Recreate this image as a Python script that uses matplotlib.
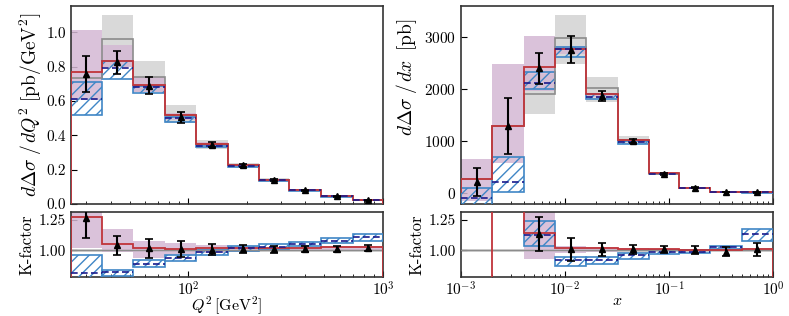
import numpy as np
import matplotlib
matplotlib.use("Agg")
import matplotlib.pyplot as plt

plt.rcParams['font.family'] = 'serif'
plt.rcParams['font.serif'] = ['cmr10']
plt.rcParams['mathtext.fontset'] = 'cm'
plt.rcParams['axes.formatter.use_mathtext'] = True
plt.rcParams['font.size'] = 10
plt.rcParams['hatch.linewidth'] = 1.0

nan = np.nan

# ---- Q^2 distribution ----
q2_edges = [25, 36, 52, 76, 110, 160, 230, 330, 480, 700, 1000]
q2_red = [0.770, 0.833, 0.693, 0.518, 0.348, 0.227, 0.140, 0.080, 0.045, 0.023]
q2_red_lo = [0.605, 0.800, 0.650, 0.490, 0.335, 0.220, 0.136, 0.078, 0.044, 0.022]
q2_red_hi = [1.013, 0.925, 0.742, 0.530, 0.360, 0.233, 0.144, 0.082, 0.046, 0.024]
q2_gray = [0.732, 0.960, 0.742, 0.520, 0.350, 0.228, 0.141, 0.081, 0.046, 0.024]
q2_gray_lo = [nan, 0.800, 0.650, 0.470, 0.320, 0.210, 0.130, 0.074, 0.041, 0.020]
q2_gray_hi = [nan, 1.100, 0.833, 0.577, 0.375, 0.240, 0.150, 0.087, 0.050, 0.027]
q2_blue = [0.610, 0.794, 0.680, 0.500, 0.340, 0.223, 0.139, 0.080, 0.045, 0.023]
q2_blue_lo = [0.518, 0.728, 0.645, 0.480, 0.330, 0.218, 0.136, 0.078, 0.044, 0.022]
q2_blue_hi = [0.713, 0.833, 0.690, 0.505, 0.345, 0.228, 0.142, 0.082, 0.046, 0.024]
q2_data = [0.760, 0.825, 0.690, 0.505, 0.345, 0.225, 0.140, 0.080, 0.045, 0.022]
q2_err = [0.105, 0.065, 0.050, 0.032, 0.015, 0.007, 0.005, 0.004, 0.003, 0.002]

# K-factor (Q^2)
q2_k_red = [1.272, 1.052, 1.020, 1.011, 1.016, 1.016, 1.020, 1.020, 1.025, 1.028]
q2_k_red_lo = [1.020, 0.990, 0.938, 0.965, 0.979, 0.990, 0.995, 0.998, 1.002, 1.005]
q2_k_red_hi = [1.400, 1.175, 1.079, 1.060, 1.046, 1.035, 1.030, 1.030, 1.035, 1.038]
q2_k_blue = [0.810, 0.824, 0.889, 0.938, 0.984, 1.020, 1.030, 1.052, 1.080, 1.110]
q2_k_blue_lo = [0.700, 0.788, 0.861, 0.916, 0.965, 0.998, 1.011, 1.033, 1.060, 1.079]
q2_k_blue_hi = [0.959, 0.840, 0.924, 0.965, 1.006, 1.033, 1.052, 1.068, 1.100, 1.134]
q2_k_data = [1.270, 1.040, 1.016, 1.012, 1.005, 1.010, 1.010, 1.010, 1.010, 1.020]
q2_k_err = [0.170, 0.080, 0.080, 0.065, 0.045, 0.030, 0.028, 0.025, 0.025, 0.022]

# ---- x distribution ----
x_edges = [0.001, 0.002, 0.004, 0.008, 0.016, 0.032, 0.064, 0.125, 0.25, 0.5, 1.0]
x_red = [258, 1294, 2421, 2775, 1900, 1017, 373, 97, 19, 6]
x_red_lo = [-150, 570, 1965, 2670, 1850, 1000, 365, 95, 17, 5]
x_red_hi = [650, 2480, 3033, 2830, 1920, 1030, 380, 99, 21, 7]
x_gray = [258, 1294, 1900, 2981, 2015, 1010, 370, 97, 19, 6]
x_gray_lo = [nan, nan, 1520, 2479, 1758, 940, 340, 80, 5, 0]
x_gray_hi = [nan, nan, 2300, 3432, 2240, 1095, 400, 115, 30, 12]
x_blue = [-110, 212, 2112, 2769, 1855, 985, 362, 96, 18, 6]
x_blue_lo = [-300, 6, 1996, 2627, 1810, 950, 355, 93, 15, 4]
x_blue_hi = [84, 695, 2337, 2820, 1900, 1000, 370, 100, 22, 8]
x_data = [212, 1288, 2402, 2756, 1867, 1004, 360, 97, 13, 6]
x_err = [270, 540, 295, 260, 105, 40, 20, 10, 8, 8]

# K-factor (x)
x_k_red = [-2.3, 6.1, 1.146, 1.021, 1.016, 1.008, 1.008, 1.000, 1.005, 1.013]
x_k_red_lo = [nan, nan, 0.930, 0.982, 0.990, 0.995, 0.997, 0.995, 0.997, 1.000]
x_k_red_hi = [nan, nan, 1.400, 1.034, 1.026, 1.020, 1.015, 1.008, 1.013, 1.020]
x_k_blue = [nan, nan, 1.130, 0.917, 0.917, 0.964, 0.990, 0.990, 1.026, 1.138]
x_k_blue_lo = [nan, nan, 1.039, 0.870, 0.890, 0.932, 0.974, 0.982, 1.008, 1.078]
x_k_blue_hi = [nan, nan, 1.242, 0.948, 0.943, 0.980, 1.003, 1.000, 1.039, 1.177]
x_k_data = [nan, nan, 1.138, 1.008, 1.008, 1.008, 1.008, 1.000, 0.990, 1.008]
x_k_err = [nan, nan, 0.140, 0.095, 0.055, 0.037, 0.026, 0.032, 0.040, 0.052]

RED = '#c0343a'
PURPLE = '#d4b8d4'
GRAY_BAND = '#d9d9d9'
GRAY_LINE = '#8c8c8c'
BLUE = '#3f86c6'
NAVY = '#1a1a8c'


def band(ax, edges, lo, hi, **kw):
    for a, b, l, h in zip(edges[:-1], edges[1:], lo, hi):
        if np.isnan(l) or np.isnan(h):
            continue
        ax.bar(a, h - l, width=b - a, bottom=l, align='edge', **kw)


def centers(edges):
    e = np.array(edges, dtype=float)
    return np.sqrt(e[:-1] * e[1:])


def draw(ax, edges, red, rlo, rhi, gray, glo, ghi, blue, blo, bhi, data, err,
         gray_flat=False):
    band(ax, edges, glo, ghi, color=GRAY_BAND, linewidth=0, zorder=1)
    band(ax, edges, rlo, rhi, color=PURPLE, alpha=0.85, linewidth=0, zorder=2)
    band(ax, edges, blo, bhi, facecolor='none', edgecolor=BLUE, hatch='///',
         linewidth=1.2, zorder=3)
    if gray_flat:
        ax.axhline(1.0, color=GRAY_LINE, lw=1.0, zorder=4)
    else:
        ax.stairs(gray, edges, color=GRAY_LINE, lw=1.2, zorder=4)
    ax.stairs(red, edges, color=RED, lw=1.3, zorder=5)
    b = np.array(blue, dtype=float)
    e = np.array(edges, dtype=float)
    m = ~np.isnan(b)
    ax.hlines(b[m], e[:-1][m], e[1:][m], colors=NAVY, linestyles=(0, (4, 2)),
              lw=1.2, zorder=6)
    ax.errorbar(centers(edges), data, yerr=err, fmt='^', color='k', ms=4,
                capsize=3, elinewidth=1.5, capthick=1.2, zorder=7)


def style(ax):
    ax.tick_params(which='both', direction='in', top=False, right=False,
                   labelsize=11)
    ax.tick_params(which='major', length=4)
    ax.tick_params(which='minor', length=2.5)
    ax.tick_params(axis='x', pad=2.5)
    for s in ax.spines.values():
        s.set_color('#333333')
        s.set_linewidth(1.2)


fig = plt.figure(figsize=(7.89, 3.16), dpi=100)
W = 0.3954
axL = fig.add_axes([0.090, 0.354, W, 0.628])
axLk = fig.add_axes([0.090, 0.123, W, 0.206])
axR = fig.add_axes([0.5843, 0.354, W, 0.628])
axRk = fig.add_axes([0.5843, 0.123, W, 0.206])

draw(axL, q2_edges, q2_red, q2_red_lo, q2_red_hi, q2_gray, q2_gray_lo,
     q2_gray_hi, q2_blue, q2_blue_lo, q2_blue_hi, q2_data, q2_err)
g_lo = [0.988] * 10
g_hi = [1.012] * 10
draw(axLk, q2_edges, q2_k_red, q2_k_red_lo, q2_k_red_hi, None, g_lo, g_hi,
     q2_k_blue, q2_k_blue_lo, q2_k_blue_hi, q2_k_data, q2_k_err, gray_flat=True)
draw(axR, x_edges, x_red, x_red_lo, x_red_hi, x_gray, x_gray_lo, x_gray_hi,
     x_blue, x_blue_lo, x_blue_hi, x_data, x_err)
draw(axRk, x_edges, x_k_red, x_k_red_lo, x_k_red_hi, None, g_lo, g_hi,
     x_k_blue, x_k_blue_lo, x_k_blue_hi, x_k_data, x_k_err, gray_flat=True)

for ax in (axL, axLk):
    ax.set_xscale('log')
    ax.set_xlim(25, 1000)
for ax in (axR, axRk):
    ax.set_xscale('log')
    ax.set_xlim(1e-3, 1)
for ax in (axL, axR, axLk, axRk):
    style(ax)
for ax in (axL, axR):
    ax.tick_params(labelbottom=False)

axL.set_ylim(0, 1.155)
axL.set_yticks([0.0, 0.2, 0.4, 0.6, 0.8, 1.0])
axL.yaxis.set_major_formatter(matplotlib.ticker.FormatStrFormatter('%.1f'))
axR.set_ylim(-220, 3610)
axR.set_yticks([0, 1000, 2000, 3000])
for ax in (axLk, axRk):
    ax.set_ylim(0.78, 1.315)
    ax.set_yticks([1.0, 1.25])
    ax.yaxis.set_major_formatter(matplotlib.ticker.FormatStrFormatter('%.2f'))
    ax.set_ylabel('K-factor', fontsize=12, labelpad=3)

axL.set_ylabel(r'$d\Delta\sigma\;/\,dQ^2\;[\mathrm{pb/GeV}^2]$', fontsize=14,
               labelpad=2)
axR.set_ylabel(r'$d\Delta\sigma\;/\,dx\;\;[\mathrm{pb}]$', fontsize=14,
               labelpad=2)
axR.yaxis.set_label_coords(-0.135, 0.64)
axLk.set_xlabel(r'$Q^2\,[\mathrm{GeV}^2]$', fontsize=11.5, labelpad=-3)
axRk.set_xlabel(r'$x$', fontsize=11.5, labelpad=-3)

fig.savefig('out.png', dpi=100)
